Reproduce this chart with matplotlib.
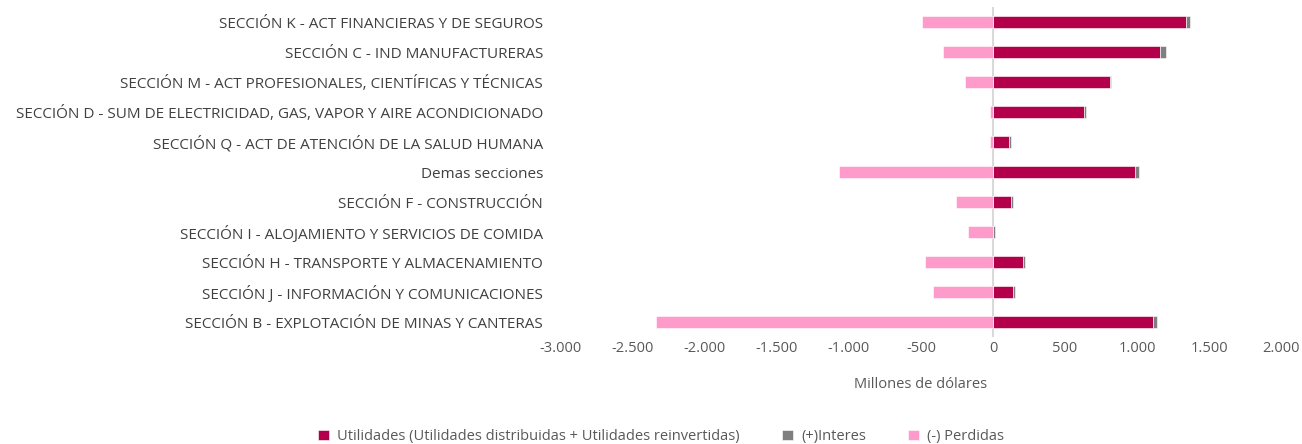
import matplotlib
matplotlib.use("Agg")
import matplotlib.pyplot as plt
from matplotlib.ticker import FuncFormatter, MultipleLocator

categories = [
    "SECCIÓN K - ACT FINANCIERAS Y DE SEGUROS",
    "SECCIÓN C - IND MANUFACTURERAS",
    "SECCIÓN M - ACT PROFESIONALES, CIENTÍFICAS Y TÉCNICAS",
    "SECCIÓN D - SUM DE ELECTRICIDAD, GAS, VAPOR Y AIRE ACONDICIONADO",
    "SECCIÓN Q - ACT DE ATENCIÓN DE LA SALUD HUMANA",
    "Demas secciones",
    "SECCIÓN F - CONSTRUCCIÓN",
    "SECCIÓN I - ALOJAMIENTO Y SERVICIOS DE COMIDA",
    "SECCIÓN H - TRANSPORTE Y ALMACENAMIENTO",
    "SECCIÓN J - INFORMACIÓN Y COMUNICACIONES",
    "SECCIÓN B - EXPLOTACIÓN DE MINAS Y CANTERAS",
]
utilidades = [1340, 1162, 810, 632, 111, 986, 127, 0, 208, 139, 1109]
interes = [25, 42, 12, 12, 16, 25, 14, 16, 16, 16, 28]
perdidas = [-495, -350, -197, -20, -20, -1068, -255, -174, -472, -419, -2340]

legend_labels = ["Utilidades (Utilidades distribuidas + Utilidades reinvertidas)",
                 "(+)Interes", "(-) Perdidas"]
colors = ["#B4004B", "#7F7F7F", "#FF9BCB"]

plt.rcParams['font.family'] = ['Open Sans', 'DejaVu Sans']

fig = plt.figure(figsize=(13.02, 4.44), dpi=100)
ax = fig.add_axes([561/1302, 1 - 337/444, 720/1302, 330/444])

n = len(categories)
y = list(range(n))
h = 0.4
ax.barh(y, utilidades, height=h, color=colors[0], label=legend_labels[0],
        edgecolor="white", linewidth=0.4, zorder=3)
ax.barh(y, interes, left=utilidades, height=h, color=colors[1], label=legend_labels[1],
        edgecolor="white", linewidth=0.4, zorder=3)
ax.barh(y, perdidas, height=h, color=colors[2], label=legend_labels[2],
        edgecolor="white", linewidth=0.4, zorder=3)

ax.set_xlim(-3000, 2000)
ax.set_ylim(n - 0.5, -0.5)
ax.axvline(0, color="#D9D9D9", linewidth=1.5, zorder=2)

ax.set_yticks(y)
ax.set_yticklabels(categories, fontsize=11, color="#404040")
ax.xaxis.set_major_locator(MultipleLocator(500))
ax.xaxis.set_major_formatter(FuncFormatter(lambda v, p: f"{int(v):,}".replace(",", ".")))
ax.tick_params(axis='x', labelsize=10.5, labelcolor="#595959", length=0, pad=3)
ax.tick_params(axis='y', length=0, pad=13)
for s in ax.spines.values():
    s.set_visible(False)
ax.set_xlabel("Millones de dólares", fontsize=10.5, color="#595959", labelpad=15)

handles, labels = ax.get_legend_handles_labels()
fig.legend(handles, labels, loc="center", bbox_to_anchor=(0.508, 0.016), ncol=3,
           frameon=False, fontsize=10.5, handlelength=0.7, handleheight=0.7,
           columnspacing=2.9, handletextpad=0.6, labelcolor="#595959")

fig.savefig("out.png", dpi=100)
